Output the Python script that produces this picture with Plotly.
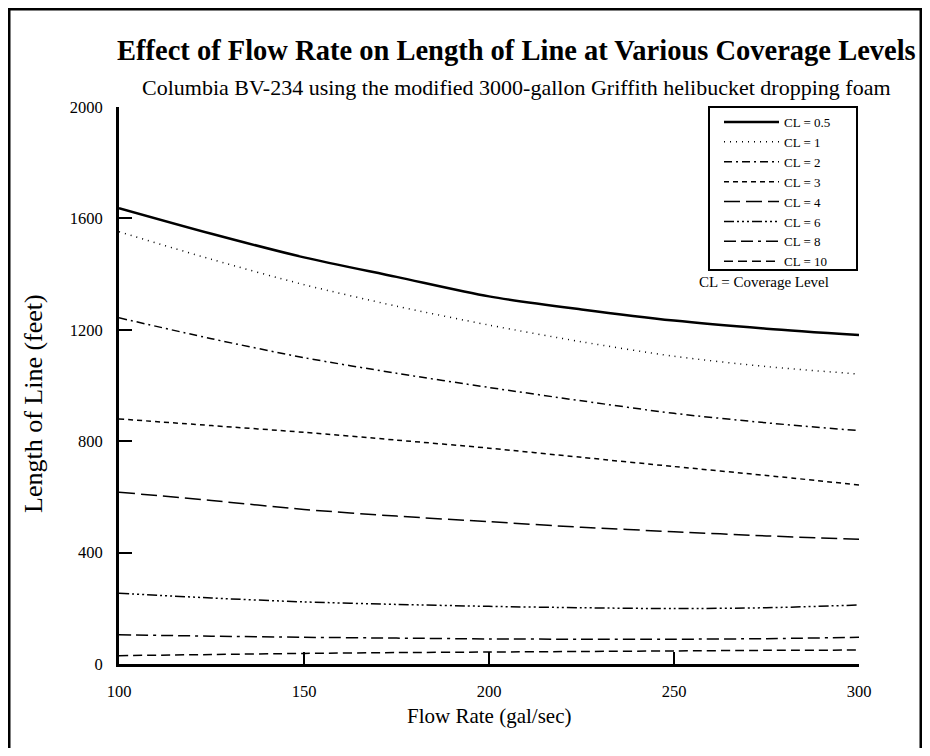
import plotly.graph_objects as go

flow = [100, 125, 150, 175, 200, 225, 250, 275, 300]
cl_labels = ["CL = 0.5", "CL = 1", "CL = 2", "CL = 3", "CL = 4", "CL = 6", "CL = 8", "CL = 10"]
cl_05 = [1637, 1545, 1460, 1390, 1320, 1273, 1233, 1204, 1181]
cl_1 = [1552, 1453, 1362, 1285, 1217, 1157, 1105, 1068, 1041]
cl_2 = [1243, 1168, 1100, 1044, 993, 945, 900, 866, 838]
cl_3 = [880, 856, 832, 804, 775, 742, 709, 677, 643]
cl_4 = [617, 587, 555, 531, 511, 491, 475, 460, 448]
cl_6 = [254, 237, 223, 214, 207, 202, 199, 202, 212]
cl_8 = [105, 100, 96, 93, 90, 89, 89, 91, 96]
cl_10 = [30, 34, 38, 41, 43, 45, 47, 49, 50]
series = [cl_05, cl_1, cl_2, cl_3, cl_4, cl_6, cl_8, cl_10]

styles = [
    ("solid", 2.5),
    ("1px,5px", 1.5),
    ("8px,4px,2px,4px", 1.5),
    ("5px,4px", 1.5),
    ("16px,6px", 1.5),
    ("10px,3px,2px,3px,2px,3px,2px,3px", 1.5),
    ("12px,5px,12px,5px,3px,5px", 1.5),
    ("9px,5px", 1.5),
]

FONT = "Liberation Serif"
W, H = 914, 740
L, R, T, B = 111, 63, 99, 84
PW, PH = W - L - R, H - T - B


def px(xf):
    return (xf - L) / PW


def py(yf):
    return (H - B - yf) / PH


fig = go.Figure()
for name, ys, (dash, w) in zip(cl_labels, series, styles):
    fig.add_trace(go.Scatter(
        x=flow, y=ys, name=name, mode="lines",
        line=dict(color="black", width=w, dash=dash, shape="spline", smoothing=0.8),
    ))

fig.update_layout(
    width=W, height=H,
    margin=dict(l=L, r=R, t=T, b=B),
    paper_bgcolor="white", plot_bgcolor="white",
    font=dict(family=FONT, color="black", size=16),
    showlegend=True,
    legend=dict(
        x=px(711), xanchor="left", y=py(99), yanchor="top",
        borderwidth=0, bgcolor="rgba(0,0,0,0)",
        font=dict(family=FONT, size=13), itemwidth=55, tracegroupgap=0,
    ),
    xaxis=dict(
        range=[100, 300], tickvals=[100, 150, 200, 250, 300],
        ticks="inside", ticklen=12, tickwidth=1.5, tickcolor="black",
        showline=True, linewidth=3, linecolor="black", showgrid=False, zeroline=False,
        ticklabelstandoff=10, tickfont=dict(size=16.5),
    ),
    yaxis=dict(
        range=[0, 2000], tickvals=[0, 400, 800, 1200, 1600, 2000],
        ticks="inside", ticklen=13, tickwidth=1.5, tickcolor="black",
        showline=True, linewidth=3, linecolor="black", showgrid=False, zeroline=False,
        ticklabelstandoff=10, tickfont=dict(size=16.5),
    ),
    annotations=[
        dict(text="<b>Effect of Flow Rate on Length of Line at Various Coverage Levels</b>",
             xref="paper", yref="paper", x=px(509), y=py(42), xanchor="center", yanchor="middle",
             showarrow=False, font=dict(family=FONT, size=28.5)),
        dict(text="Columbia BV-234 using the modified 3000-gallon Griffith helibucket dropping foam",
             xref="paper", yref="paper", x=px(509), y=py(79), xanchor="center", yanchor="middle",
             showarrow=False, font=dict(family=FONT, size=22)),
        dict(text="Flow Rate (gal/sec)", xref="paper", yref="paper", x=0.5, y=py(708),
             xanchor="center", yanchor="middle", showarrow=False,
             font=dict(family=FONT, size=21)),
        dict(text="Length of Line (feet)", xref="paper", yref="paper", x=px(25), y=py(396),
             xanchor="center", yanchor="middle", textangle=-90, showarrow=False,
             font=dict(family=FONT, size=26)),
        dict(text="CL = Coverage Level", xref="paper", yref="paper", x=px(689), y=py(274),
             xanchor="left", yanchor="middle", showarrow=False, font=dict(family=FONT, size=15)),
    ],
    shapes=[
        dict(type="rect", xref="paper", yref="paper",
             x0=px(1), x1=px(913), y0=py(H + 10), y1=py(1),
             line=dict(color="black", width=3), layer="below"),
        dict(type="rect", xref="paper", yref="paper",
             x0=px(701), x1=px(849), y0=py(262), y1=py(99),
             line=dict(color="black", width=2), layer="below"),
    ],
)

fig.write_html("out.html")
